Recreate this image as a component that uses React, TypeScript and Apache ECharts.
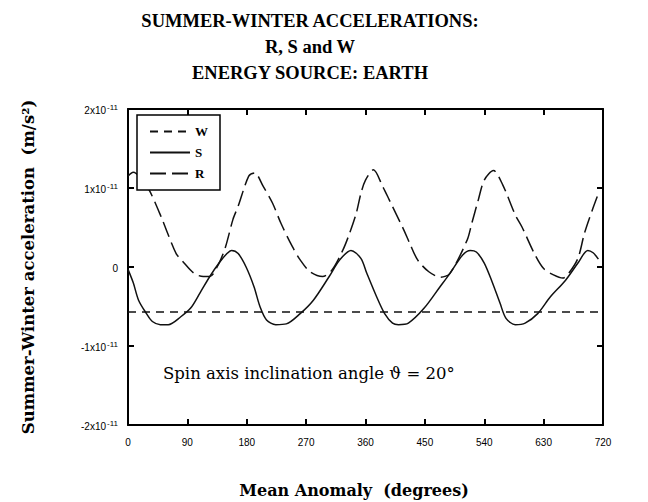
import React, { useEffect, useRef } from "react";
import * as echarts from "echarts";

// Values in units of 1e-11 m/s^2
const xTicks = [0, 90, 180, 270, 360, 450, 540, 630, 720];
const yTickLabels: Record<string, string> = {
  "2": "{a|2x10}{b|-11}",
  "1": "{a|1x10}{b|-11}",
  "0": "{a|0}",
  "-1": "{a|-1x10}{b|-11}",
  "-2": "{a|-2x10}{b|-11}",
};

const wDeg = [0, 720];
const wVal = [-0.57, -0.57];

const sDeg = [0, 8, 16, 28, 37, 49, 61, 80, 95, 109, 124, 138, 150, 157, 167, 179, 191, 200, 210, 224, 240, 261, 281, 305, 321, 338, 353, 362, 377, 389, 401, 410, 425, 449, 473, 488, 507, 519, 528, 540, 552, 564, 573, 587, 602, 621, 640, 663, 682, 697, 705, 713];
const sVal = [-0.03, -0.2, -0.42, -0.59, -0.69, -0.73, -0.73, -0.63, -0.52, -0.33, -0.12, 0.05, 0.17, 0.21, 0.17, 0.0, -0.25, -0.5, -0.67, -0.73, -0.72, -0.59, -0.42, -0.12, 0.09, 0.21, 0.11, -0.08, -0.38, -0.59, -0.71, -0.73, -0.71, -0.52, -0.25, -0.08, 0.15, 0.21, 0.19, 0.05, -0.19, -0.46, -0.65, -0.73, -0.71, -0.59, -0.38, -0.17, 0.05, 0.21, 0.18, 0.1];

const rDeg = [0, 8, 20, 33, 52, 59, 73, 83, 100, 114, 124, 138, 148, 159, 167, 183, 192, 205, 219, 232, 249, 261, 276, 295, 309, 326, 336, 346, 353, 360, 372, 386, 396, 418, 427, 439, 456, 474, 488, 514, 521, 531, 540, 554, 568, 587, 597, 616, 630, 645, 659, 668, 682, 692, 705, 713];
const rVal = [1.15, 1.2, 1.12, 0.96, 0.6, 0.45, 0.17, 0.07, -0.08, -0.12, -0.12, 0.05, 0.26, 0.6, 0.77, 1.15, 1.19, 1.02, 0.81, 0.55, 0.26, 0.09, -0.06, -0.12, -0.04, 0.22, 0.43, 0.68, 0.93, 1.1, 1.23, 1.02, 0.85, 0.47, 0.3, 0.09, -0.06, -0.13, -0.08, 0.34, 0.55, 0.85, 1.1, 1.22, 1.04, 0.66, 0.51, 0.17, -0.02, -0.1, -0.14, -0.08, 0.11, 0.43, 0.75, 0.93];

const zip = (xs: number[], ys: number[]) => xs.map((x, i) => [x, ys[i]]);

const SERIF = "'Liberation Serif', 'Times New Roman', serif";
const WSERIF = "'DejaVu Serif', serif";
const SANS = "'Liberation Sans', Arial, sans-serif";

export default function App() {
  const ref = useRef<HTMLDivElement>(null);
  useEffect(() => {
    if (!ref.current) return;
    const chart = echarts.init(ref.current, undefined, { renderer: "svg" });
    const axisLine = { show: true, onZero: false, lineStyle: { color: "#000", width: 2 } };
    const axisTick = { show: true, inside: true, length: 6, lineStyle: { color: "#000", width: 2 } };
    chart.setOption({
      animation: false,
      backgroundColor: "#fff",
      title: {
        text: "SUMMER-WINTER ACCELERATIONS:\nR, S and W\nENERGY SOURCE: EARTH",
        left: 305,
        top: 3,
        textAlign: "center",
        textStyle: { fontFamily: SERIF, fontWeight: "bold", fontSize: 18.5, lineHeight: 26, color: "#000" },
      },
      grid: { left: 128, right: 45, top: 109, bottom: 77 },
      legend: {
        orient: "vertical",
        left: 137,
        top: 115,
        itemWidth: 40,
        itemHeight: 14,
        itemGap: 8,
        padding: [10, 12, 10, 12],
        borderColor: "#000",
        borderWidth: 1.5,
        backgroundColor: "#fff",
        data: ["W", "S", "R"],
        itemStyle: { opacity: 0 },
        textStyle: { fontFamily: SERIF, fontWeight: "bold", fontSize: 13, color: "#000" },
      },
      xAxis: [
        {
          type: "value", min: 0, max: 720, interval: 90, position: "bottom",
          axisLine, axisTick, splitLine: { show: false },
          axisLabel: { margin: 12, fontFamily: SANS, fontSize: 10, color: "#000",
            formatter: (v: number) => (xTicks.includes(v) ? String(v) : "") },
        },
        {
          type: "value", min: 0, max: 720, interval: 90, position: "top",
          axisLine, axisTick, splitLine: { show: false }, axisLabel: { show: false },
        },
      ],
      yAxis: [
        {
          type: "value", min: -2, max: 2, interval: 1, position: "left",
          axisLine, axisTick, splitLine: { show: false },
          axisLabel: {
            margin: 10, color: "#000",
            formatter: (v: number) => yTickLabels[String(v)] ?? "",
            rich: {
              a: { fontFamily: SANS, fontSize: 10, color: "#000", verticalAlign: "bottom", lineHeight: 12 },
              b: { fontFamily: SANS, fontSize: 8, color: "#000", verticalAlign: "top", padding: [0, 0, 8, 1], lineHeight: 12 },
            },
          },
        },
        {
          type: "value", min: -2, max: 2, interval: 1, position: "right",
          axisLine, axisTick, splitLine: { show: false }, axisLabel: { show: false },
        },
      ],
      series: [
        {
          name: "W", type: "line", data: zip(wDeg, wVal), showSymbol: false, symbol: "none",
          lineStyle: { color: "#111", width: 1.5, type: [8, 6] }, itemStyle: { color: "#111" },
        },
        {
          name: "S", type: "line", data: zip(sDeg, sVal), showSymbol: false, symbol: "none", smooth: 0.3,
          lineStyle: { color: "#111", width: 1.5, type: "solid" }, itemStyle: { color: "#111" },
        },
        {
          name: "R", type: "line", data: zip(rDeg, rVal), showSymbol: false, symbol: "none", smooth: 0.3,
          lineStyle: { color: "#111", width: 1.5, type: [16, 6] }, itemStyle: { color: "#111" },
        },
      ],
      graphic: [
        {
          type: "text", left: 163, top: 365, z: 10,
          style: { text: "Spin axis inclination angle \u03D1 = 20\u00B0", fontFamily: WSERIF, fontSize: 16.5, fill: "#000" },
        },
        {
          type: "text", x: 28, y: 267, rotation: Math.PI / 2, z: 10,
          style: { text: "Summer-Winter acceleration  (m/s\u00B2)", fontFamily: WSERIF, fontWeight: "bold", fontSize: 16.5,
            fill: "#000", align: "center", verticalAlign: "middle" },
        },
        {
          type: "text", x: 354, y: 490, z: 10,
          style: { text: "Mean Anomaly  (degrees)", fontFamily: WSERIF, fontWeight: "bold", fontSize: 16,
            fill: "#000", align: "center", verticalAlign: "middle" },
        },
      ],
    });
    return () => chart.dispose();
  }, []);
  return <div ref={ref} style={{ width: 648, height: 502, position: "absolute", left: 0, top: 0 }} />;
}
